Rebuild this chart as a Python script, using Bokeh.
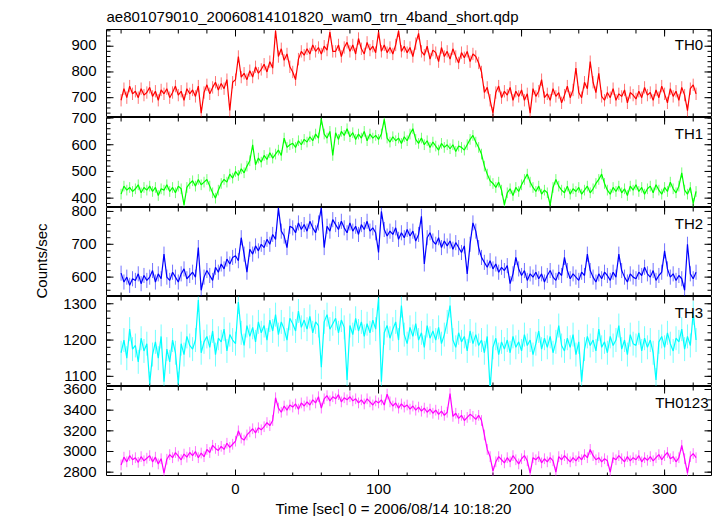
import numpy as np
from bokeh.plotting import figure
from bokeh.layouts import column, row
from bokeh.models import Range1d, Label, Title
from bokeh.core.properties import value
from bokeh.embed import file_html
from bokeh.resources import INLINE

TITLE = "ae801079010_20060814101820_wam0_trn_4band_short.qdp"
X_LABEL = "Time [sec] 0 = 2006/08/14 10:18:20"
Y_LABEL = "Counts/sec"

T_START = -80   # first bin time [s]
T_BIN = 2       # bin width [s]

TH0 = [690, 735, 700, 745, 715, 725, 700, 735, 710, 720,
       740, 705, 725, 690, 730, 715, 735, 700, 720, 745,
       710, 725, 690, 735, 715, 730, 705, 745, 640, 720,
       750, 715, 740, 760, 730, 755, 735, 770, 650, 760,
       770, 860, 780, 795, 770, 805, 780, 820, 795, 810,
       830, 800, 840, 815, 960, 860, 890, 845, 870, 820,
       800, 770, 850, 880, 865, 890, 870, 905, 880, 895,
       870, 900, 885, 955, 880, 880, 905, 860, 895, 915,
       880, 905, 870, 930, 890, 870, 915, 885, 900, 875,
       955, 880, 905, 875, 895, 870, 905, 960, 880, 900,
       875, 895, 860, 910, 950, 880, 865, 900, 850, 885,
       875, 840, 895, 860, 880, 850, 890, 860, 835, 875,
       855, 880, 840, 870, 860, 835, 800, 720, 740, 690,
       640, 720, 745, 700, 725, 710, 740, 690, 725, 705,
       730, 690, 715, 640, 735, 705, 725, 770, 700, 715,
       690, 735, 705, 720, 680, 710, 745, 700, 730, 815,
       720, 700, 760, 735, 840, 760, 720, 795, 705, 690,
       720, 700, 735, 690, 715, 705, 730, 680, 720, 710,
       695, 725, 700, 740, 710, 720, 690, 730, 700, 745,
       715, 680, 735, 705, 725, 690, 740, 710, 650, 735,
       750, 715]

TH1 = [415, 445, 430, 440, 425, 435, 450, 420, 440, 430,
       445, 425, 440, 410, 435, 430, 450, 425, 440, 420,
       445, 435, 375, 440, 455, 465, 445, 470, 450, 460,
       470, 445, 420, 400, 430, 455, 470, 460, 490, 475,
       500, 485, 510, 495, 520, 540, 600, 525, 550, 535,
       560, 545, 570, 550, 565, 580, 560, 625, 590, 600,
       605, 590, 615, 600, 620, 610, 630, 615, 640, 625,
       695, 640, 625, 650, 560, 645, 620, 650, 635, 660,
       630, 645, 620, 640, 625, 650, 615, 640, 625, 635,
       620, 640, 695, 625, 610, 630, 615, 625, 605, 630,
       615, 640, 660, 620, 605, 625, 600, 615, 590, 610,
       595, 580, 605, 590, 600, 585, 600, 575, 595, 590,
       580, 600, 620, 635, 610, 590, 565, 520, 490, 465,
       455, 440, 460, 430, 375, 420, 435, 410, 440, 425,
       450, 470, 490, 460, 440, 425, 445, 415, 430, 420,
       375, 440, 470, 445, 430, 420, 445, 415, 435, 425,
       440, 415, 430, 445, 420, 435, 455, 470, 490, 455,
       430, 415, 440, 425, 445, 420, 435, 410, 445, 430,
       450, 425, 440, 415, 435, 445, 420, 450, 430, 415,
       440, 425, 460, 435, 420, 445, 495, 430, 415, 440,
       380, 425]

TH2 = [612, 585, 600, 575, 595, 590, 610, 580, 605, 590,
       600, 620, 585, 610, 595, 670, 600, 590, 615, 600,
       585, 610, 625, 595, 605, 615, 600, 690, 560, 600,
       620, 605, 590, 630, 615, 640, 625, 655, 640, 660,
       665, 650, 720, 670, 615, 685, 670, 695, 680, 700,
       690, 715, 700, 730, 715, 810, 740, 725, 690, 755,
       750, 735, 765, 745, 760, 740, 770, 750, 735, 765,
       810, 690, 755, 740, 775, 760, 745, 770, 750, 735,
       765, 740, 755, 730, 760, 745, 770, 740, 750, 735,
       675, 800, 745, 725, 740, 730, 750, 715, 735, 720,
       745, 725, 740, 710, 730, 785, 640, 720, 735, 710,
       700, 720, 690, 710, 695, 710, 685, 705, 690, 675,
       695, 610, 700, 765, 740, 690, 660, 645, 630, 650,
       625, 640, 615, 630, 620, 635, 580, 610, 660, 625,
       605, 620, 590, 610, 600, 615, 595, 610, 585, 605,
       620, 600, 590, 615, 605, 660, 620, 595, 610, 600,
       590, 615, 605, 670, 620, 600, 585, 610, 595, 615,
       605, 590, 615, 600, 670, 620, 600, 585, 610, 600,
       595, 615, 605, 630, 610, 600, 620, 590, 605, 615,
       680, 625, 600, 610, 590, 605, 595, 560, 700, 610,
       595, 615]

TH3 = [1165, 1200, 1150, 1230, 1175, 1185, 1140, 1205, 1170, 1190,
       1080, 1160, 1195, 1150, 1210, 1085, 1175, 1140, 1200, 1165,
       1080, 1190, 1160, 1210, 1185, 1175, 1200, 1310, 1165, 1195,
       1210, 1180, 1225, 1160, 1205, 1195, 1230, 1170, 1215, 1200,
       1190, 1305, 1220, 1185, 1240, 1210, 1235, 1195, 1250, 1220,
       1240, 1200, 1255, 1225, 1270, 1215, 1250, 1230, 1200, 1260,
       1245, 1225, 1280, 1235, 1255, 1230, 1265, 1220, 1250, 1240,
       1125, 1250, 1270, 1230, 1245, 1260, 1220, 1255, 1235, 1090,
       1240, 1215, 1260, 1225, 1250, 1210, 1245, 1220, 1255, 1230,
       1315, 1085, 1220, 1240, 1205, 1230, 1250, 1200, 1295, 1215,
       1190, 1235, 1210, 1245, 1200, 1220, 1180, 1240, 1205, 1225,
       1200, 1235, 1190, 1215, 1250, 1295, 1200, 1180, 1220, 1195,
       1210, 1170, 1225, 1190, 1215, 1185, 1200, 1165, 1210, 1065,
       1180, 1205, 1160, 1195, 1175, 1200, 1165, 1210, 1180, 1195,
       1170, 1215, 1185, 1200, 1160, 1190, 1225, 1175, 1205, 1180,
       1210, 1165, 1195, 1240, 1185, 1170, 1205, 1180, 1215, 1160,
       1195, 1085, 1175, 1210, 1185, 1200, 1170, 1230, 1180, 1195,
       1165, 1210, 1185, 1200, 1240, 1175, 1200, 1160, 1215, 1190,
       1185, 1220, 1170, 1205, 1180, 1200, 1165, 1090, 1195, 1210,
       1180, 1220, 1190, 1170, 1205, 1195, 1230, 1175, 1210, 1185,
       1275, 1200]

TH0123 = [2870, 2945, 2900, 2960, 2920, 2940, 2895, 2950, 2910, 2935,
          2960, 2900, 2945, 2880, 2930, 2790, 2925, 2970, 2940, 2990,
          2955, 2920, 2975, 2945, 2990, 2960, 3000, 2940, 2985, 2950,
          3020, 2990, 3060, 3030, 3010, 3050, 3020, 3080, 3040, 3070,
          3100, 3200, 3130, 3110, 3160, 3190, 3220, 3180, 3230, 3210,
          3240, 3280, 3250, 3300, 3520, 3420, 3380, 3440, 3400, 3450,
          3430, 3460, 3410, 3470, 3440, 3480, 3450, 3500, 3470, 3530,
          3420, 3510, 3540, 3490, 3530, 3510, 3550, 3480, 3520, 3500,
          3530, 3490, 3510, 3470, 3500, 3460, 3510, 3480, 3450, 3490,
          3470, 3500, 3450, 3555, 3480, 3440, 3470, 3420, 3460, 3430,
          3450, 3410, 3440, 3400, 3430, 3390, 3420, 3380, 3410, 3370,
          3400, 3360, 3390, 3350, 3380, 3560, 3340, 3370, 3320, 3350,
          3300, 3330, 3360, 3340, 3310, 3350, 3300, 3160, 3020, 2950,
          2810, 2900, 2950, 2920, 2890, 2940, 2900, 2960, 2920, 2880,
          2930, 2960, 2910, 2790, 2940, 2920, 2950, 2890, 2930, 2900,
          2940, 2910, 2800, 2950, 2920, 2960, 2930, 2900, 2940, 2910,
          2950, 2920, 2970, 2940, 3020, 2960, 2920, 2940, 2900, 2930,
          2910, 2800, 2940, 2920, 2960, 2930, 2900, 2950, 2910, 2940,
          2920, 2960, 2900, 2940, 2915, 2950, 2910, 2940, 2970, 2920,
          2960, 2990, 2930, 2950, 2900, 2940, 3060, 2930, 2790, 2950,
          2980, 2940]

# 1-sigma error per bin (counts/sec)
ERR_TH0 = 24
ERR_TH1 = 20
ERR_TH2 = 23
ERR_TH3 = 33
ERR_TH0123 = 52

X_MAJOR = [0, 100, 200, 300]
X_MINOR = list(range(-80, 340, 20))

FONT = "Liberation Sans"
FS = "15px"
STRIP_W = 105         # left strip: y title and y tick labels
W = 612               # width of each panel figure
LEFT = 1              # panel frame starts at page x = 106
RIGHT = 6
X_RANGE = (-90.2, 332.8)
MAJ_LEN = 7
MIN_LEN = 4
XAX_H = 40            # strip under the panels: x tick labels and x title

panels = [
    dict(name="TH0", y=TH0, err=ERR_TH0, color="#ff0000", yr=(623, 965),
         major=[700, 800, 900], minor=list(range(640, 961, 20)),
         top=28, fh=89, lx=596.7),
    dict(name="TH1", y=TH1, err=ERR_TH1, color="#00ff00", yr=(365, 702),
         major=[400, 500, 600, 700], minor=list(range(380, 701, 20)),
         top=0, fh=90, lx=596.7),
    dict(name="TH2", y=TH2, err=ERR_TH2, color="#0000ff", yr=(541, 812),
         major=[600, 700, 800], minor=list(range(560, 801, 20)),
         top=0, fh=89, lx=596.7),
    dict(name="TH3", y=TH3, err=ERR_TH3, color="#00ffff", yr=(1072, 1320),
         major=[1100, 1200, 1300], minor=list(range(1080, 1321, 20)),
         top=0, fh=90, lx=596.7),
    dict(name="TH0123", y=TH0123, err=ERR_TH0123, color="#ff00ff", yr=(2758, 3629),
         major=[2800, 3000, 3200, 3400, 3600], minor=list(range(2800, 3601, 100)),
         top=0, fh=90, lx=602),
]


def inner_ticks(p, xs, ys, angle, length):
    p.ray(x=xs, y=ys, length=length, length_units="screen", angle=angle,
          line_color="black", line_width=1)


total_h = sum(pn["top"] + pn["fh"] for pn in panels) + XAX_H

# left strip: y-axis title and tick labels of every panel
strip = figure(width=STRIP_W, height=total_h, x_range=Range1d(0, STRIP_W), y_range=Range1d(0, total_h),
               output_backend="svg", toolbar_location=None, x_axis_type=None, y_axis_type=None,
               min_border=0)
strip.outline_line_color = None
strip.border_fill_color = "white"
strip.background_fill_color = "white"
strip.add_layout(Label(x=41, y=total_h - 260.5, x_units="screen", y_units="screen", text=Y_LABEL,
                       angle=np.pi / 2, text_align="center", text_baseline="middle",
                       text_font=FONT, text_font_size=FS, text_color="black"))

x_range = Range1d(*X_RANGE)
figs = []
y_cursor = 0
for i, pn in enumerate(panels):
    h = pn["top"] + pn["fh"]
    lo, hi = pn["yr"]
    p = figure(width=W, height=h, x_range=x_range, y_range=Range1d(lo, hi),
               output_backend="svg", toolbar_location=None,
               x_axis_type=None, y_axis_type=None,
               min_border_left=LEFT, min_border_right=RIGHT,
               min_border_top=pn["top"], min_border_bottom=0)
    p.outline_line_color = "black"
    p.outline_line_width = 1
    p.background_fill_color = "white"
    p.border_fill_color = "white"

    for ye, ang in ((lo, np.pi / 2), (hi, -np.pi / 2)):
        inner_ticks(p, X_MAJOR, [ye] * len(X_MAJOR), ang, MAJ_LEN)
        inner_ticks(p, X_MINOR, [ye] * len(X_MINOR), ang, MIN_LEN)
    for xe, ang in ((X_RANGE[0], 0.0), (X_RANGE[1], np.pi)):
        inner_ticks(p, [xe] * len(pn["major"]), pn["major"], ang, MAJ_LEN)
        inner_ticks(p, [xe] * len(pn["minor"]), pn["minor"], ang, MIN_LEN)

    yv = np.array(pn["y"], dtype=float)
    t = T_START + T_BIN * np.arange(len(yv))
    p.segment(x0=t, y0=yv - pn["err"], x1=t, y1=yv + pn["err"],
              line_color=pn["color"], line_alpha=0.55, line_width=1)
    p.line(t, yv, line_color=pn["color"], line_width=1.2)

    p.add_layout(Label(x=pn["lx"], y=pn["fh"] - 15.5, x_units="screen", y_units="screen",
                       text=pn["name"], text_align="right", text_baseline="alphabetic",
                       text_font=FONT, text_font_size=FS, text_color="black"))

    # y tick labels, placed in the strip level with this panel's ticks
    frame_top = y_cursor + pn["top"]
    for v in pn["major"]:
        y_page = frame_top + (hi - v) / (hi - lo) * pn["fh"]
        strip.add_layout(Label(x=STRIP_W - 9, y=total_h - y_page, x_units="screen", y_units="screen",
                               text=str(v), text_align="right", text_baseline="middle",
                               text_font=FONT, text_font_size=FS, text_color="black"))
    y_cursor += h
    figs.append(p)

figs[0].add_layout(Title(text=TITLE, align="left", offset=0, text_font=FONT,
                         text_font_size=FS, text_font_style="normal", text_color="black"), "above")

# strip under the panels: x tick labels (same x scale) and the x-axis title
xax = figure(width=W, height=XAX_H, x_range=x_range, y_range=Range1d(0, XAX_H),
             output_backend="svg", toolbar_location=None, x_axis_type=None, y_axis_type=None,
             min_border_left=LEFT, min_border_right=RIGHT, min_border_top=0, min_border_bottom=0)
xax.outline_line_color = None
xax.border_fill_color = "white"
xax.background_fill_color = "white"
xax.text(x=X_MAJOR, y=[XAX_H - 12] * len(X_MAJOR), text=[str(v) for v in X_MAJOR],
         text_align="center", text_baseline="middle", text_font=value(FONT),
         text_font_size=value(FS), text_color="black")
xax.add_layout(Label(x=169, y=8, x_units="screen", y_units="screen", text=X_LABEL,
                     text_align="left", text_baseline="alphabetic",
                     text_font=FONT, text_font_size=FS, text_color="black"))

layout = row(strip, column(*figs, xax, spacing=0), spacing=0)
open("out.html", "w").write(file_html(layout, INLINE))
